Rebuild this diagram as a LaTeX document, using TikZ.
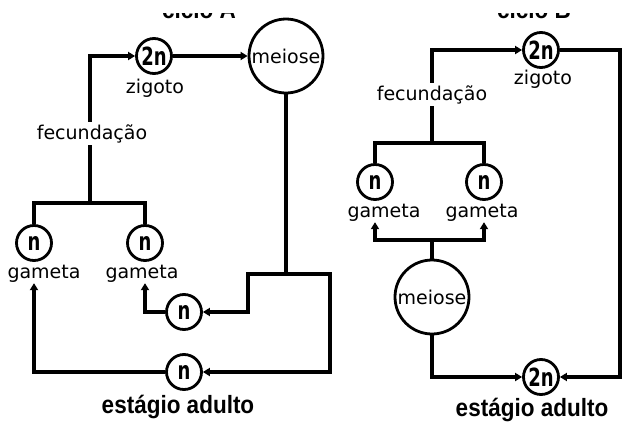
\documentclass[tikz,border=0pt]{standalone}
\usepackage{fontspec}
\usetikzlibrary{arrows.meta}
\newfontfamily\labfont{DejaVu Sans}
\newfontfamily\cirfont[FakeStretch=0.72]{DejaVu Sans}
\newfontfamily\ttlfont[FakeStretch=0.9]{Liberation Sans}
\begin{document}
\begin{tikzpicture}[x=1pt,y=-1pt,
  conn/.style={line width=3.3pt},
  arr/.style={conn,-{Triangle[length=7pt,width=8pt]}},
  small/.style={circle,draw,line width=2.8pt,minimum size=35pt,inner sep=0pt,
    font=\cirfont\bfseries\fontsize{25}{25}\selectfont},
  big/.style={circle,draw,line width=2.8pt,minimum size=74pt,inner sep=0pt,
    font=\labfont\fontsize{19}{22}\selectfont},
  lab/.style={inner sep=1pt,font=\labfont\fontsize{19}{22}\selectfont,anchor=base},
  lbg/.style={lab,fill=white,inner sep=2pt},
  ttl/.style={inner sep=0pt,font=\ttlfont\bfseries\fontsize{25}{25}\selectfont,anchor=base}]
\useasboundingbox (0,0) rectangle (622,421);
\fill[white] (0,0) rectangle (622,421);

% titles (top clipped as in the reference)
\begin{scope}
\clip (0,13) rectangle (622,421);
\node[ttl] (tA) at (199,18) {ciclo A};
\node[ttl] (tB) at (534,18) {ciclo B};
\end{scope}

% ---------- ciclo A ----------
\node[small] (zA) at (154,56) {2n};
\node[big] (meA) at (286,56) {meiose};
\node[small] (gA1) at (34,243) {n};
\node[small] (gA2) at (145,243) {n};
\node[small] (nA1) at (184,312) {n};
\node[small] (nA2) at (184,372) {n};
\node[lab] (zlA) at (155,93) {zigoto};
\node[lab] (glA1) at (44,278) {gameta};
\node[lab] (glA2) at (142,278) {gameta};
\node[ttl] (eA) at (178,413) {estágio adulto};

\coordinate (fA) at (90,203);
\coordinate (jA) at (286,274);
\coordinate (rA) at (330,274);
\coordinate (lA) at (248,274);

\draw[conn] (gA1) |- (fA) -| (gA2);
\draw[arr] (fA) |- (zA);
\draw[arr] (zA) -- (meA);
\draw[conn] (meA) -- (jA);
\draw[conn,line cap=rect] (lA) -- (rA);
\draw[arr] (rA) |- (nA2);
\draw[arr] (lA) |- (nA1);
\draw[arr] (nA1) -| (gA2 |- glA2.south);
\draw[arr] (nA2) -| (gA1 |- glA1.south);
\node[lbg] (fcA) at (92,139) {fecundação};

% ---------- ciclo B ----------
\node[small] (zB) at (541,50) {2n};
\node[big] (meB) at (432,297) {meiose};
\node[small] (gB1) at (375,182) {n};
\node[small] (gB2) at (484,182) {n};
\node[small] (aB) at (541,377) {2n};
\node[lab] (zlB) at (543,84) {zigoto};
\node[lab] (glB1) at (384,217) {gameta};
\node[lab] (glB2) at (482,217) {gameta};
\node[ttl] (eB) at (532,416) {estágio adulto};

\coordinate (fB) at (432,143);
\coordinate (jB) at (432,240);
\coordinate (cB) at (620,377);

\draw[conn] (gB1) |- (fB) -| (gB2);
\draw[arr] (fB) |- (zB);
\draw[arr] (zB) -| (cB) -- (aB);
\draw[arr] (meB) |- (aB);
\draw[conn] (meB) -- (jB);
\draw[arr] (jB) -| (gB1 |- glB1.south);
\draw[arr] (jB) -| (gB2 |- glB2.south);
\node[lbg] (fcB) at (432,100) {fecundação};
\end{tikzpicture}
\end{document}
